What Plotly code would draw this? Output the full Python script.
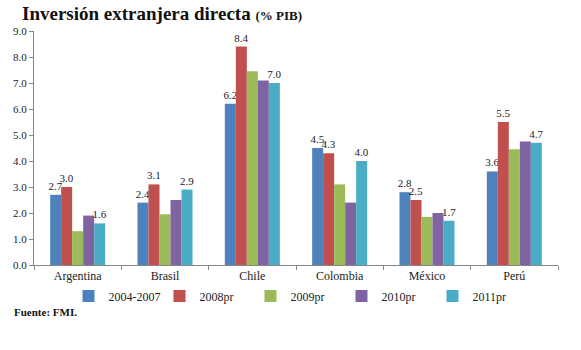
import plotly.graph_objects as go

categories = ["Argentina", "Brasil", "Chile", "Colombia", "México", "Perú"]
series_names = ["2004-2007", "2008pr", "2009pr", "2010pr", "2011pr"]
v2004_2007 = [2.7, 2.4, 6.2, 4.5, 2.8, 3.6]
v2008 = [3.0, 3.1, 8.4, 4.3, 2.5, 5.5]
v2009 = [1.3, 1.95, 7.45, 3.1, 1.85, 4.45]
v2010 = [1.9, 2.5, 7.1, 2.4, 2.0, 4.75]
v2011 = [1.6, 2.9, 7.0, 4.0, 1.7, 4.7]
series_values = [v2004_2007, v2008, v2009, v2010, v2011]
show_labels = [True, True, False, False, True]
colors = ["#4F81BD", "#C0504D", "#9BBB59", "#8064A2", "#4BACC6"]
y_ticks = [0, 1, 2, 3, 4, 5, 6, 7, 8, 9]

FONT = "Liberation Serif, Times New Roman, serif"

fig = go.Figure()
for name, vals, lab, col in zip(series_names, series_values, show_labels, colors):
    fig.add_trace(go.Bar(
        x=categories, y=vals, name=name,
        marker=dict(color=col, line=dict(width=0)),
        text=[f"{v:.1f}" for v in vals] if lab else None,
        textposition="outside" if lab else "none",
        constraintext="none",
        textfont=dict(family=FONT, size=11, color="#222222"),
        cliponaxis=False,
    ))

fig.update_layout(
    width=581, height=350,
    margin=dict(l=34, r=23, t=31, b=85, autoexpand=False),
    paper_bgcolor="white", plot_bgcolor="white",
    barmode="group", bargap=0.37, bargroupgap=0.0,
    font=dict(family=FONT, size=11, color="#222222"),
    title=dict(
        text="<b>Inversión extranjera directa</b> <b><span style='font-size:13px'>(% PIB)</span></b>",
        x=22/581, xanchor="left", y=1-13/350, yanchor="middle",
        font=dict(family=FONT, size=19, color="#111111"),
    ),
    showlegend=True,
    legend=dict(
        orientation="h", x=0.5, xanchor="center", y=-0.07, yanchor="top",
        font=dict(family=FONT, size=12, color="#222222"),
        entrywidth=46, entrywidthmode="pixels", itemwidth=30,
        traceorder="normal", bgcolor="rgba(0,0,0,0)",
    ),
)
fig.update_yaxes(
    range=[0, 9], tickvals=y_ticks, ticktext=[f"{t:.1f}" for t in y_ticks],
    showgrid=False, zeroline=False, showline=True, linecolor="#868686", linewidth=1,
    ticks="outside", ticklen=4, tickcolor="#868686",
    tickfont=dict(family=FONT, size=11, color="#222222"),
)
fig.update_xaxes(
    showgrid=False, showline=True, linecolor="#868686", linewidth=1,
    ticks="outside", ticklen=4, tickcolor="#868686", tickson="boundaries",
    tickfont=dict(family=FONT, size=12, color="#222222"),
)
fig.add_annotation(
    text="<b>Fuente: FMI.</b>", xref="paper", yref="paper",
    x=-22/524, y=-(312-265)/234, xanchor="left", yanchor="middle",
    showarrow=False, font=dict(family=FONT, size=11, color="#111111"),
)

fig.write_html("out.html")
